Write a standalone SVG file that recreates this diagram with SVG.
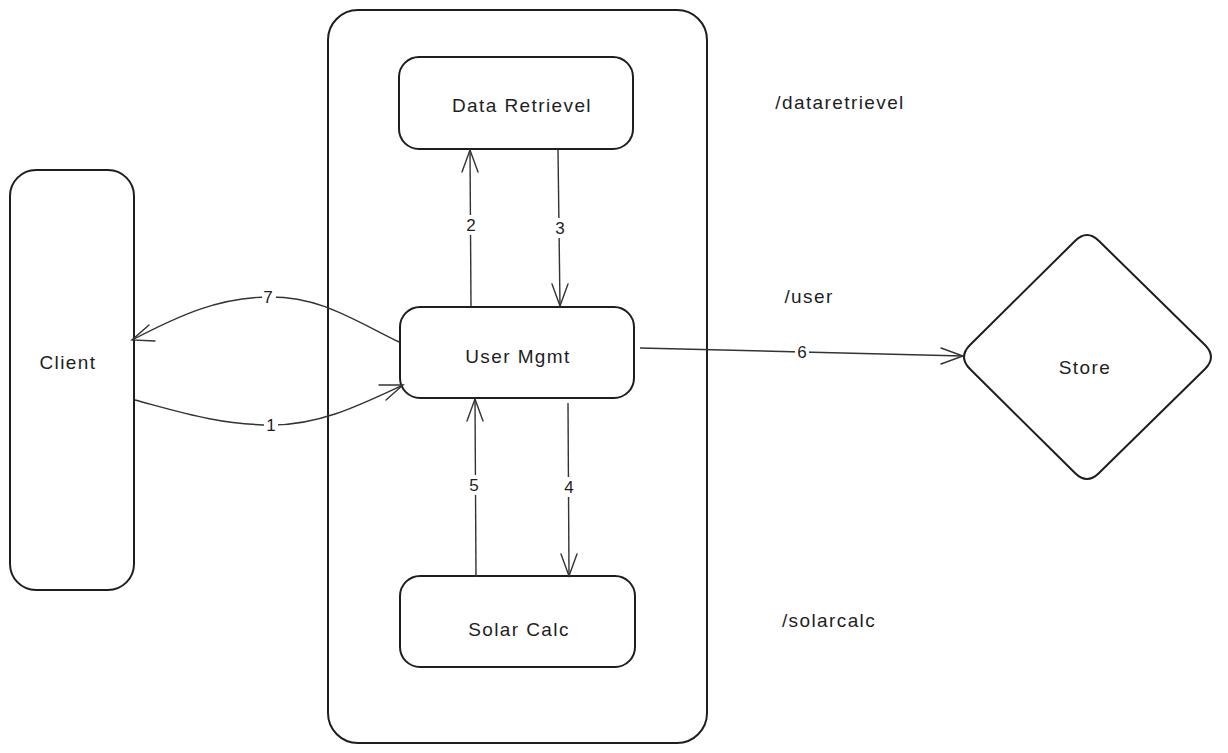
<svg xmlns="http://www.w3.org/2000/svg" width="1228" height="753" viewBox="0 0 1228 753">
<style>
.box{fill:none;stroke:#1e1e1e;stroke-width:2}
.edge{fill:none;stroke:#333;stroke-width:1.4}
.ah{fill:none;stroke:#333;stroke-width:1.4;stroke-linecap:round}
text{font-family:"Liberation Sans","DejaVu Sans",sans-serif;font-size:19px;letter-spacing:1.4px;fill:#1e1e1e;text-anchor:middle;dominant-baseline:central}
.lbl{font-size:17px;letter-spacing:0}
.lb{fill:#fff;stroke:none}
</style>
<rect width="1228" height="753" fill="#fff"/>
<g id="container"><rect class="box" x="328" y="10" width="379" height="733" rx="30"/></g>
<g id="client"><rect class="box" x="10" y="170" width="124" height="420" rx="26"/><text x="68" y="362">Client</text></g>
<g id="dataretrievel"><rect class="box" x="399" y="57" width="234" height="92" rx="20"/><text x="522" y="105">Data Retrievel</text></g>
<g id="usermgmt"><rect class="box" x="400" y="307" width="234" height="91" rx="20"/><text x="518" y="356">User Mgmt</text></g>
<g id="solarcalc"><rect class="box" x="400" y="576" width="235" height="91" rx="20"/><text x="519" y="629">Solar Calc</text></g>
<g id="store"><path class="box" stroke-width="1.6" d="M1075,241 Q1087,229 1099,241 L1205,345 Q1217,357 1205,369 L1099,473 Q1087,485 1075,473 L970,369 Q958,357 970,345 Z"/><text x="1085" y="367">Store</text></g>
<g id="route-labels">
<text x="840" y="102">/dataretrievel</text>
<text x="809" y="296">/user</text>
<text x="829" y="620">/solarcalc</text>
</g>
<g id="connectors">
<path class="edge" d="M471,306 L470,150"/>
<path class="ah" d="M462,172 L470,150 L478,172"/>
<path class="edge" d="M558,150 L560,306"/>
<path class="ah" d="M552,284 L560,306 L568,284"/>
<path class="edge" d="M476,577 L475,399"/>
<path class="ah" d="M467,421 L475,399 L483,421"/>
<path class="edge" d="M568,403 L569,576"/>
<path class="ah" d="M561,554 L569,576 L577,554"/>
<path class="edge" d="M640,348 L963,356"/>
<path class="ah" d="M941,348 L963,356 L941,364"/>
<path class="edge" d="M399,342 C350,318 320,297 270,297 C220,297 180,315 132,340"/>
<path class="ah" d="M149,325 L132,340 L155,341"/>
<path class="edge" d="M135,400 C180,412 220,425 272,425 C320,425 360,405 403,385"/>
<path class="ah" d="M379,385 L403,385 L386,400"/>
<rect class="lb" x="463" y="215" width="16" height="20"/><text class="lbl" x="471" y="225">2</text>
<rect class="lb" x="552" y="218" width="16" height="20"/><text class="lbl" x="560" y="228">3</text>
<rect class="lb" x="466" y="475" width="16" height="20"/><text class="lbl" x="474" y="485">5</text>
<rect class="lb" x="561" y="477" width="16" height="20"/><text class="lbl" x="569" y="487">4</text>
<rect class="lb" x="795" y="342" width="14" height="20"/><text class="lbl" x="802" y="352">6</text>
<rect class="lb" x="262" y="288" width="14" height="18"/><text class="lbl" x="268" y="297">7</text>
<rect class="lb" x="264" y="416" width="14" height="18"/><text class="lbl" x="271" y="425">1</text>
</g>
</svg>
